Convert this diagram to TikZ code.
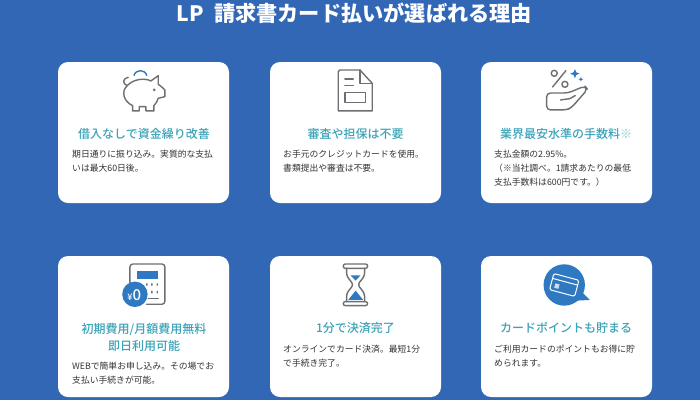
\documentclass[tikz,border=0pt]{standalone}
\usepackage{fontspec}
\newfontfamily\cjk{Noto Sans CJK JP}
\newfontfamily\cjkmed{Noto Sans CJK JP Medium}
\definecolor{bgblue}{HTML}{3267B6}
\definecolor{iconblue}{HTML}{2F78C2}
\definecolor{icongray}{HTML}{6E6F72}
\definecolor{headteal}{HTML}{3BA3B8}
\definecolor{bodygray}{HTML}{333333}
\tikzset{
	card/.style={fill=white,rounded corners=10pt,minimum width=171pt,minimum height=141pt,inner sep=0pt},
	headtext/.style={font=\cjkmed\fontsize{12}{17}\selectfont,text=headteal,align=center,inner sep=0pt},
	bodytext/.style={font=\cjk\fontsize{8.8}{14}\selectfont,text=bodygray,align=left,anchor=north west,inner sep=0pt},
	icon/.style={draw=icongray,line width=1.4pt,line join=round,line cap=round},
}
\begin{document}
\begin{tikzpicture}[x=1pt,y=-1pt]
		\useasboundingbox (0,0) rectangle (700,400);
		\fill[bgblue] (0,0) rectangle (700,400);
		\node[font=\cjk\bfseries\fontsize{21.2}{24}\selectfont,text=white,inner sep=0pt] (title) at (354.5,13) {LP\hspace{10pt}請求書カード払いが選ばれる理由};
		% cards
		\node[card] (card1) at (143.5,132.5) {};
		\node[card] (card2) at (355.5,132.5) {};
		\node[card] (card3) at (566.5,132.5) {};
		\node[card] (card4) at (143.5,326.5) {};
		\node[card] (card5) at (355.5,326.5) {};
		\node[card] (card6) at (566.5,326.5) {};
		% headings
		\node[headtext] (head1) at (144,133.5) {借入なしで資金繰り改善};
		\node[headtext] (head2) at (355.5,133.5) {審査や担保は不要};
		\node[headtext] (head3) at (566,133.5) {業界最安水準の手数料{\cjk\color{headteal!60}※}};
		\node[headtext] (head4) at (144,337) {初期費用/月額費用無料\\即日利用可能};
		\node[headtext] (head5) at (355.5,328) {1分で決済完了};
		\node[headtext] (head6) at (566,328) {カードポイントも貯まる};
		% body texts
		\node[bodytext] (body1) at (72,150) {期日通りに振り込み。実質的な支払\\いは最大60日後。};
		\node[bodytext] (body2) at (283,150) {お手元のクレジットカードを使用。\\書類提出や審査は不要。};
		\node[bodytext] (body3) at (494,150) {支払金額の2.95\%。\\（※当社調べ。1請求あたりの最低\\支払手数料は600円です。）};
		\node[bodytext] (body4) at (72,362) {WEBで簡単お申し込み。その場でお\\支払い手続きが可能。};
		\node[bodytext] (body5) at (283,345) {オンラインでカード決済。最短1分\\で手続き完了。};
		\node[bodytext] (body6) at (494,345) {ご利用カードのポイントもお得に貯\\められます。};
		% pig
		\begin{scope}[shift={(50,55)},x=0.333pt,y=-0.333pt]
			\draw[iconblue,line width=1.4pt] (252,62) .. controls (258,42) and (285,42) .. (291,62);
			\draw[icon] (248,168) -- (248,152) .. controls (222,140) and (212,110) .. (232,92) .. controls (250,72) and (285,68) .. (303,78) -- (325,62) -- (325,88) .. controls (335,95) and (340,100) .. (345,105) -- (345,125) -- (325,130) .. controls (322,140) and (318,146) .. (312,152) -- (312,168) -- (288,168) -- (288,155) -- (268,155) -- (268,168) -- cycle;
			\draw[icon] (232,92) .. controls (216,86) and (218,70) .. (235,67);
			\fill[icongray] (313,105) circle (1.5pt);
		\end{scope}
		% document
		\begin{scope}[shift={(260,55)},x=0.333pt,y=-0.333pt]
			\draw[icon] (300,45) -- (240,45) -- (235,50) -- (235,168) -- (337,168) -- (337,85) -- cycle;
			\draw[icon] (300,45) -- (300,85) -- (337,85);
			\draw[icon] (255,72) -- (280,72);
			\draw[icon] (255,92) -- (280,92);
			\draw[icon] (255,113) rectangle (317,143);
		\end{scope}
		% percent and hand
		\begin{scope}[shift={(470,55)},x=0.333pt,y=-0.333pt]
			\draw[icon] (253,55) circle (3pt);
			\draw[icon] (285,88) circle (3pt);
			\draw[icon] (288,47) -- (248,96);
			\fill[iconblue] (315,42) -- (319,52) -- (329,56) -- (319,60) -- (315,70) -- (311,60) -- (301,56) -- (311,52) -- cycle;
			\fill[iconblue] (333,66) -- (335,71) -- (340,73) -- (335,75) -- (333,80) -- (331,75) -- (326,73) -- (331,71) -- cycle;
			\draw[icon,rounded corners=4pt] (230,165) -- (230,114) -- (295,114) -- (345,93) -- (353,103) -- (305,158) -- (290,165) -- cycle;
			\draw[icon] (272,135) -- (300,131) -- (316,122);
		\end{scope}
		% calculator
		\begin{scope}[shift={(50,250)},x=0.333pt,y=-0.333pt]
			\draw[icon,rounded corners=3pt] (240,100) -- (240,42) -- (345,42) -- (345,163) -- (290,163);
			\fill[iconblue] (260,62) rectangle (325,87);
			\fill[icongray] (289,100) rectangle (293,107) (304,100) rectangle (308,107) (320,100) rectangle (324,107) (304,123) rectangle (308,130) (320,123) rectangle (324,130);
			\draw[icon] (295,145) -- (325,145);
			\fill[iconblue] (255,133) circle (12.7pt);
			\node[font=\cjkmed\fontsize{9}{12}\selectfont,text=white,inner sep=0pt] (yen) at (253,134) {¥{\fontsize{15}{16}\selectfont 0}};
		\end{scope}
		% hourglass
		\begin{scope}[shift={(260,250)},x=0.333pt,y=-0.333pt]
			\fill[iconblue] (272,76) -- (302,76) -- (287,92) -- cycle;
			\fill[iconblue] (287,122) -- (310,150) -- (265,150) -- cycle;
			\draw[icon,rounded corners=2pt] (250,42) rectangle (323,55);
			\draw[icon,rounded corners=2pt] (250,155) rectangle (323,167);
			\draw[icon,rounded corners=3pt] (260,55) -- (260,78) -- (281,104) -- (260,130) -- (260,155);
			\draw[icon,rounded corners=3pt] (314,55) -- (314,78) -- (293,104) -- (314,130) -- (314,155);
		\end{scope}
		% speech bubble with card
		\begin{scope}[shift={(470,250)},x=0.333pt,y=-0.333pt]
			\fill[iconblue] (283,105) circle (20.7pt);
			\fill[iconblue] (335,125) -- (360,150) -- (320,152) -- cycle;
			\begin{scope}[shift={(283,105)},rotate=-15]
				\draw[white,line width=1pt,rounded corners=1.5pt] (-39,-25) rectangle (39,25);
				\draw[white,line width=1pt] (-39,-10) -- (39,-10);
				\fill[white!75!iconblue] (-27,2) rectangle (-14,16);
			\end{scope}
		\end{scope}
\end{tikzpicture}
\end{document}
